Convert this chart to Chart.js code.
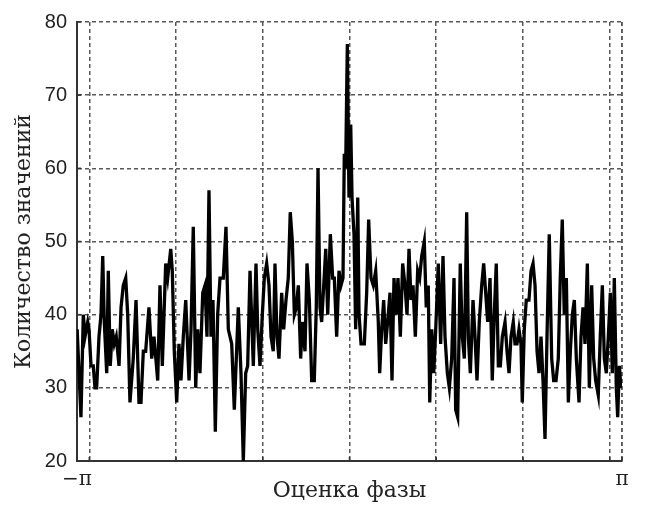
<!DOCTYPE html>
<html>
<head>
<meta charset="utf-8">
<script src="https://cdn.jsdelivr.net/npm/chart.js@4/dist/chart.umd.min.js"></script>
<style>
html,body{margin:0;padding:0;background:#fff;}
#wrap{width:646px;height:505px;}
</style>
</head>
<body>
<div id="wrap"><canvas id="c" width="646" height="505"></canvas></div>
<script>
// Phase estimate (radians)
const phase = [
-3.140,-3.096,-3.069,-3.049,-3.018,-3.003,-2.980,-2.954,-2.934,-2.915,
-2.888,-2.865,-2.845,-2.827,-2.799,-2.781,-2.758,-2.735,-2.712,-2.689,
-2.657,-2.634,-2.608,-2.580,-2.557,-2.531,-2.493,-2.461,-2.427,-2.404,
-2.377,-2.350,-2.312,-2.280,-2.254,-2.211,-2.185,-2.158,-2.119,-2.096,
-2.061,-2.043,-2.020,-1.992,-1.966,-1.943,-1.916,-1.888,-1.850,-1.827,
-1.801,-1.773,-1.750,-1.724,-1.692,-1.666,-1.643,-1.620,-1.597,-1.574,
-1.547,-1.520,-1.493,-1.455,-1.424,-1.397,-1.358,-1.328,-1.282,-1.251,
-1.224,-1.197,-1.174,-1.147,-1.109,-1.078,
-1.058,-1.032,-1.005,-0.982,-0.955,-0.928,-0.905,-0.879,-0.859,-0.836,
-0.813,-0.782,-0.759,-0.732,-0.706,-0.683,-0.659,-0.636,-0.613,-0.590,
-0.563,-0.544,-0.513,-0.490,-0.463,-0.436,-0.406,-0.383,-0.363,-0.340,
-0.321,-0.297,-0.274,-0.251,-0.221,-0.194,-0.175,-0.148,-0.121,-0.098,
-0.075,-0.060,-0.044,-0.025,-0.006,0.014,0.029,0.052,0.071,0.095,
0.110,0.133,0.171,0.198,0.221,0.248,0.274,0.302,0.332,0.348,
0.371,0.394,0.417,0.447,0.467,0.490,0.513,0.536,0.559,0.586,
0.613,0.640,0.663,0.686,0.709,0.732,0.759,0.786,0.809,0.832,
0.862,0.885,0.908,0.925,0.948,0.971,0.994,
1.024,1.051,1.078,1.101,1.128,1.151,1.178,1.205,1.224,1.247,
1.277,1.300,1.324,1.351,1.370,1.393,1.424,1.447,1.470,1.496,
1.524,1.547,1.570,1.593,1.620,1.646,1.669,1.692,1.716,1.739,
1.762,1.793,1.816,1.839,1.862,1.888,1.908,1.931,1.954,1.977,
1.992,2.015,2.038,2.069,2.093,2.116,2.139,2.162,2.185,2.208,
2.231,2.254,2.277,2.303,2.331,2.354,2.381,2.407,2.430,2.453,
2.476,2.500,2.523,2.546,2.569,2.592,2.615,2.646,2.669,2.692,
2.715,2.742,2.765,2.792,2.815,2.838,2.868,2.891,2.915,2.938,
2.961,2.984,3.007,3.030,3.053,3.076,3.092,3.111,3.130
];
// Number of values (count) at each phase estimate
const counts = [
38,26,40,37,39,38,33,33,30,30,
37,40,48,39,32,46,33,38,36,37,
33,41,44,45,40,28,34,42,28,28,
35,35,41,34,37,31,44,33,47,45,
49,46,35,28,36,31,37,42,31,38,
52,30,38,32,43,44,37,57,37,42,
24,40,45,45,52,38,36,27,41,32,
20,32,33,46,33,47,
38,33,40,45,47,44,37,35,47,37,
34,43,38,42,45,54,50,40,41,44,
34,39,35,47,42,31,31,41,60,41,
39,44,49,40,51,45,45,37,46,44,
45,62,60,77,56,66,56,51,38,56,
40,36,36,43,53,45,44,46,39,32,
38,42,36,40,43,31,45,40,45,37,
47,44,40,49,42,44,37,46,45,48,
50,41,44,28,38,32,38,
47,36,48,37,32,30,34,45,27,26,
47,37,34,54,37,32,42,37,31,39,
44,47,43,39,45,31,40,47,33,33,
37,39,35,32,37,39,36,36,38,36,
28,38,42,42,46,47,44,35,32,37,
31,23,37,51,34,31,31,34,45,53,
40,45,28,35,40,42,34,28,37,41,
36,47,30,44,34,31,29,37,44,34,
32,37,43,32,45,30,26,33,30
];
const xGridValues = [-3, -2, -1, 0, 1, 2, 3];
const xEdgeLabels = ['\u2212\u03c0', '\u03c0'];
const yMin = 20, yMax = 80, yStep = 10;
const xTitle = 'Оценка фазы';
const yTitle = 'Количество значений';

const points = phase.map((p, i) => ({x: p, y: counts[i]}));

const gridColor = '#585858';
const gridDash = [4, 3];

const frame = {
  id: 'frame',
  beforeDatasetsDraw(chart) {
    const {ctx, chartArea: a, scales: {x, y}} = chart;
    ctx.save();
    // dashed right edge (grid line at pi)
    ctx.strokeStyle = gridColor;
    ctx.lineWidth = 1.5;
    ctx.setLineDash(gridDash);
    ctx.beginPath(); ctx.moveTo(x.getPixelForValue(Math.PI), a.top); ctx.lineTo(x.getPixelForValue(Math.PI), a.bottom); ctx.stroke();
    ctx.setLineDash([]);
    // short inward tick marks
    ctx.strokeStyle = '#333';
    ctx.lineWidth = 1.5;
    x.ticks.forEach(t => {
      const px = x.getPixelForValue(t.value);
      ctx.beginPath(); ctx.moveTo(px, a.bottom); ctx.lineTo(px, a.bottom - 4); ctx.stroke();
    });
    y.ticks.forEach(t => {
      const py = y.getPixelForValue(t.value);
      ctx.beginPath(); ctx.moveTo(a.left, py); ctx.lineTo(a.left + 4, py); ctx.stroke();
    });
    ctx.restore();
  }
};

const serif = "'DejaVu Serif', 'Liberation Serif', serif";
const narrow = "'Liberation Sans Narrow', 'Arial Narrow', 'Liberation Sans', sans-serif";

new Chart(document.getElementById('c'), {
  type: 'line',
  data: {
    datasets: [{
      data: points,
      borderColor: '#000',
      borderWidth: 3.3,
      pointRadius: 0,
      tension: 0,
      fill: false
    }]
  },
  options: {
    responsive: false,
    animation: false,
    devicePixelRatio: 1,
    layout: {padding: {top: 15, right: 24, left: 0, bottom: 0}},
    plugins: {legend: {display: false}, tooltip: {enabled: false}},
    scales: {
      x: {
        type: 'linear',
        min: -Math.PI,
        max: Math.PI,
        afterBuildTicks(scale) {
          scale.ticks = [-Math.PI, ...xGridValues, Math.PI].map(v => ({value: v}));
        },
        afterFit(scale) { scale.height = 44; },
        ticks: {
          autoSkip: false,
          maxRotation: 0,
          padding: 7,
          color: '#222',
          font: {family: serif, size: 20},
          callback(v) {
            if (Math.abs(v + Math.PI) < 1e-6) return xEdgeLabels[0];
            if (Math.abs(v - Math.PI) < 1e-6) return xEdgeLabels[1];
            return '';
          }
        },
        grid: {
          color: gridColor,
          lineWidth: 1.5,
          drawTicks: false
        },
        border: {display: true, color: '#333', width: 2, dash: gridDash},
        title: {
          display: true,
          text: xTitle,
          color: '#222',
          font: {family: serif, size: 22},
          padding: {top: 0, bottom: 1}
        }
      },
      y: {
        min: yMin,
        max: yMax,
        afterFit(scale) { scale.width = 77; },
        ticks: {
          stepSize: yStep,
          padding: 10,
          color: '#222',
          font: {family: narrow, size: 20}
        },
        grid: {
          color: gridColor,
          lineWidth: 1.5,
          drawTicks: false
        },
        border: {display: true, color: '#333', width: 2, dash: gridDash},
        title: {
          display: true,
          text: yTitle,
          color: '#222',
          font: {family: serif, size: 22},
          padding: {top: 11, bottom: 0}
        }
      }
    }
  },
  plugins: [frame]
});
</script>
</body>
</html>
